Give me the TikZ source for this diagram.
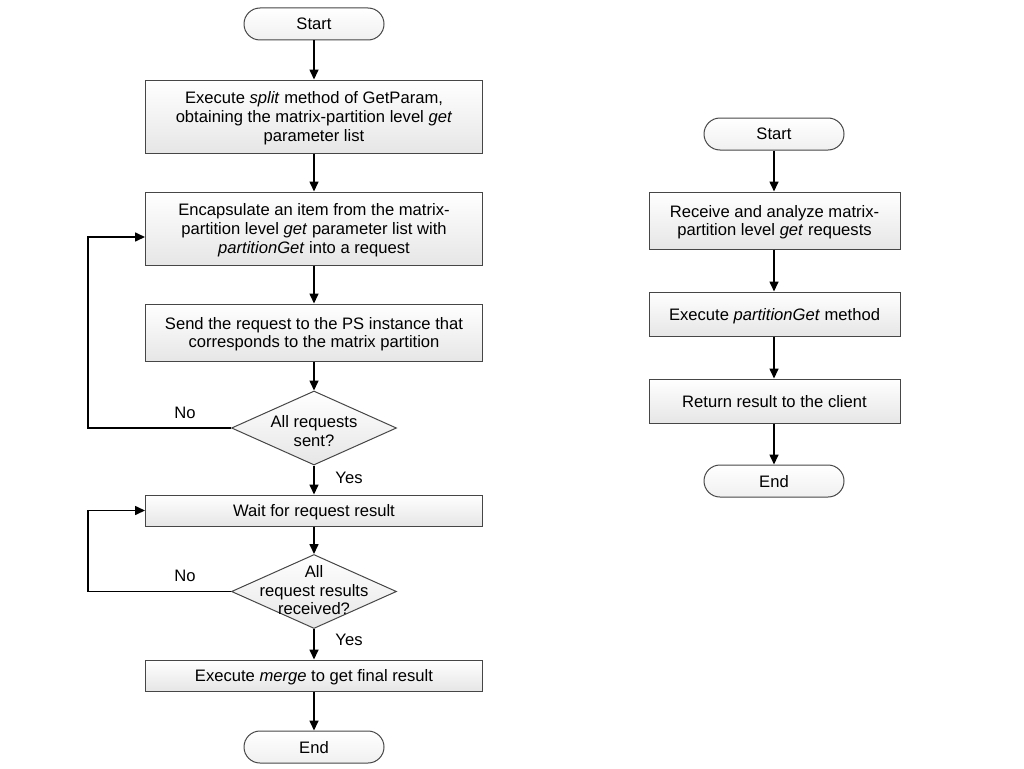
\documentclass[tikz,border=0pt]{standalone}
\usepackage{fontspec}
\setmainfont{Liberation Sans}
\usepackage{tikz}
\usetikzlibrary{arrows.meta,shapes.geometric}
\definecolor{boxedge}{RGB}{70,70,70}
\definecolor{boxbottom}{RGB}{230,230,230}
\tikzset{
  procbox/.style={rectangle, draw=boxedge, line width=1pt, top color=white, bottom color=boxbottom,
    minimum width=337pt, inner sep=0pt, text depth=0pt, align=center},
  sidebox/.style={procbox, minimum width=251pt},
  termbox/.style={rectangle, rounded corners=16pt, draw=boxedge, line width=1pt, top color=white,
    bottom color=boxbottom!60, minimum width=140pt, minimum height=32pt, inner sep=0pt, text depth=0pt},
  decbox/.style={diamond, draw=boxedge, line width=1pt, top color=white, bottom color=boxbottom,
    minimum width=165pt, minimum height=74pt, inner sep=0pt},
  dectext/.style={align=center, inner sep=0pt, text depth=0pt},
  flowarrow/.style={draw=black, line width=1.6pt, -{Triangle[length=10pt,width=9pt]}},
  branchtext/.style={inner sep=0pt}
}
\begin{document}
\begin{tikzpicture}[x=1pt, y=-1pt, font=\fontsize{16.6}{18.6}\selectfont]
  \useasboundingbox (0,0) rectangle (1024,768);
  % left flow: client side
  \node[termbox] (ls) at (314,24) {Start};
  \node[procbox, minimum height=73pt] (b1) at (314,116.5) {Execute \textit{split} method of GetParam,\\obtaining the matrix-partition level \textit{get}\\parameter list};
  \node[procbox, minimum height=73pt] (b2) at (314,228.5) {Encapsulate an item from the matrix-\\partition level \textit{get} parameter list with\\\textit{partitionGet} into a request};
  \node[procbox, minimum height=57pt] (b3) at (314,332.5) {Send the request to the PS instance that\\corresponds to the matrix partition};
  \node[decbox] (d1) at (314,428) {};
  \node[dectext] (d1t) at (314,431) {All requests\\sent?};
  \node[procbox, minimum height=31pt] (b4) at (314,510.5) {Wait for request result};
  \node[decbox] (d2) at (314,591.5) {};
  \node[dectext] (d2t) at (314,590) {All\\request results\\received?};
  \node[procbox, minimum height=31pt] (b5) at (314,675.5) {Execute \textit{merge} to get final result};
  \node[termbox] (le) at (314,747) {End};

  \node[branchtext] (no1) at (185,413) {No};
  \node[branchtext] (yes1) at (349,478) {Yes};
  \node[branchtext] (no2) at (185,576) {No};
  \node[branchtext] (yes2) at (349,640) {Yes};

  \draw[flowarrow] (ls) -- (b1);
  \draw[flowarrow] (b1) -- (b2);
  \draw[flowarrow] (b2) -- (b3);
  \draw[flowarrow] (b3) -- (d1);
  \draw[flowarrow] (d1) -- (b4);
  \draw[flowarrow] (b4) -- (d2);
  \draw[flowarrow] (d2) -- (b5);
  \draw[flowarrow] (b5) -- (le);
  \draw[flowarrow] (d1.west) -- ++(-143,0) |- ([yshift=-8.5pt]b2.west);
  \draw[flowarrow] (d2.west) -- ++(-143,0) |- (b4.west);

  % right flow: PS side
  \node[termbox] (rs) at (774,134) {Start};
  \node[sidebox, minimum height=57pt] (r1) at (774.5,220.5) {Receive and analyze matrix-\\partition level \textit{get} requests};
  \node[sidebox, minimum height=44pt] (r2) at (774.5,314) {Execute \textit{partitionGet} method};
  \node[sidebox, minimum height=44pt] (r3) at (774.5,401) {Return result to the client};
  \node[termbox] (re) at (774,481) {End};

  \draw[flowarrow] (rs) -- (rs |- r1.north);
  \draw[flowarrow] (r1.south -| rs) -- (rs |- r2.north);
  \draw[flowarrow] (r2.south -| rs) -- (rs |- r3.north);
  \draw[flowarrow] (r3.south -| rs) -- (re);
\end{tikzpicture}
\end{document}
